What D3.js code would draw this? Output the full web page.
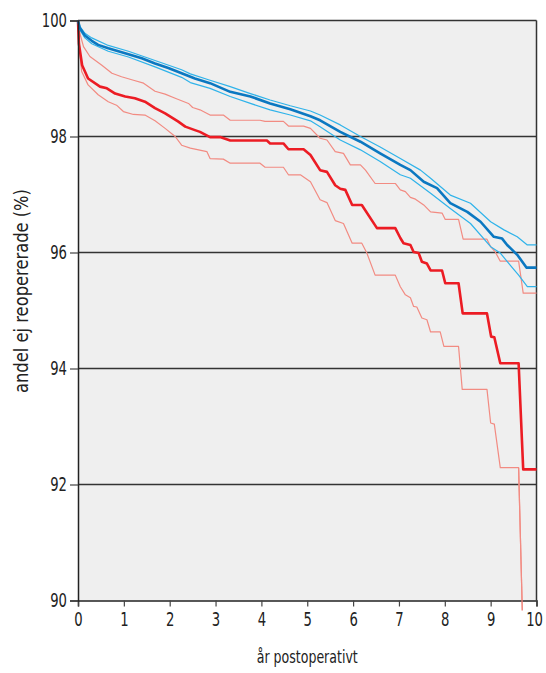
<!DOCTYPE html>
<html><head><meta charset="utf-8">
<script src="https://cdn.jsdelivr.net/npm/d3@7"></script>
<style>
body{margin:0;background:#fff;}
text{font-family:"DejaVu Sans",sans-serif;fill:#222;}
</style></head>
<body><svg id="c" width="546" height="673"></svg>
<script>
const xTicks=[0,1,2,3,4,5,6,7,8,9,10];
const yTicks=[90,92,94,96,98,100];
const gridValues=[92,94,96,98];
const xTitle="år postoperativt";
const yTitle="andel ej reopererade (%)";

const redMain=[[0,100],[0.02,99.6],[0.09,99.23],[0.22,99.0],[0.48,98.86],[0.63,98.83],[0.81,98.74],[1.03,98.69],[1.24,98.66],[1.46,98.6],[1.68,98.49],[1.9,98.4],[2.18,98.26],[2.34,98.17],[2.55,98.11],[2.66,98.08],[2.88,97.99],[3.1,97.99],[3.32,97.93],[4.12,97.93],[4.19,97.88],[4.48,97.88],[4.59,97.78],[4.92,97.78],[5.07,97.68],[5.28,97.42],[5.43,97.39],[5.61,97.16],[5.72,97.1],[5.83,97.08],[5.98,96.82],[6.19,96.82],[6.52,96.42],[6.92,96.42],[7.03,96.25],[7.1,96.16],[7.25,96.13],[7.32,96.01],[7.43,95.99],[7.5,95.84],[7.61,95.81],[7.69,95.69],[7.94,95.69],[8.01,95.47],[8.3,95.47],[8.39,94.95],[8.92,94.95],[9.01,94.55],[9.08,94.54],[9.21,94.09],[9.61,94.09],[9.71,92.26],[10,92.26]];
const redLower=[[0,100],[0.03,99.5],[0.08,99.12],[0.22,98.89],[0.44,98.72],[0.66,98.6],[0.84,98.54],[0.99,98.43],[1.21,98.38],[1.46,98.37],[1.68,98.27],[1.9,98.14],[2.12,98.0],[2.26,97.85],[2.45,97.8],[2.81,97.74],[2.88,97.62],[3.17,97.61],[3.32,97.54],[3.97,97.54],[4.08,97.47],[4.48,97.47],[4.59,97.34],[4.85,97.34],[5.07,97.22],[5.28,96.91],[5.43,96.86],[5.61,96.55],[5.79,96.5],[5.98,96.16],[6.19,96.16],[6.3,95.99],[6.48,95.61],[6.92,95.61],[7.03,95.41],[7.14,95.27],[7.25,95.22],[7.32,95.07],[7.39,95.06],[7.5,94.87],[7.61,94.84],[7.69,94.63],[7.9,94.63],[7.98,94.38],[8.3,94.38],[8.38,93.64],[8.92,93.64],[9.0,93.06],[9.08,93.04],[9.21,92.29],[9.61,92.29],[9.69,89.83]];
const redUpper=[[0,100],[0.05,99.75],[0.12,99.55],[0.26,99.38],[0.52,99.23],[0.74,99.09],[0.95,99.03],[1.21,98.97],[1.43,98.92],[1.68,98.78],[1.9,98.73],[2.12,98.66],[2.41,98.57],[2.5,98.5],[2.66,98.46],[2.88,98.37],[3.17,98.37],[3.32,98.28],[3.97,98.28],[4.08,98.26],[4.48,98.26],[4.59,98.18],[4.92,98.18],[5.07,98.14],[5.28,97.97],[5.43,97.94],[5.61,97.74],[5.79,97.71],[5.94,97.51],[6.16,97.51],[6.27,97.42],[6.48,97.19],[6.92,97.19],[7.03,97.08],[7.14,97.05],[7.25,96.95],[7.36,96.92],[7.54,96.82],[7.69,96.7],[7.94,96.68],[8.01,96.57],[8.3,96.57],[8.4,96.23],[8.92,96.23],[9.0,96.1],[9.1,96.01],[9.21,95.85],[9.61,95.85],[9.71,95.3],[10,95.3]];
const blueMain=[[0,100],[0.04,99.87],[0.15,99.74],[0.3,99.65],[0.44,99.58],[0.66,99.52],[0.88,99.47],[1.1,99.42],[1.39,99.35],[1.68,99.26],[1.97,99.18],[2.26,99.09],[2.55,99.0],[2.88,98.92],[3.32,98.77],[3.76,98.69],[4.19,98.57],[4.63,98.47],[5.07,98.35],[5.28,98.28],[5.72,98.08],[6.16,97.91],[6.59,97.71],[7.03,97.51],[7.25,97.42],[7.54,97.22],[7.83,97.11],[8.12,96.85],[8.49,96.7],[8.78,96.53],[9.07,96.27],[9.25,96.24],[9.36,96.13],[9.58,95.96],[9.78,95.74],[10,95.74]];
const blueUpper=[[0,100],[0.04,99.9],[0.15,99.78],[0.3,99.7],[0.66,99.57],[1.1,99.47],[1.68,99.31],[2.26,99.15],[2.45,99.08],[2.88,98.97],[3.32,98.86],[3.76,98.74],[4.19,98.63],[4.63,98.53],[5.07,98.44],[5.28,98.37],[5.72,98.2],[6.16,98.0],[6.59,97.82],[7.03,97.62],[7.47,97.42],[7.69,97.28],[8.12,96.99],[8.56,96.85],[9.0,96.53],[9.29,96.39],[9.58,96.27],[9.8,96.13],[10,96.13]];
const blueLower=[[0,100],[0.04,99.84],[0.15,99.7],[0.3,99.6],[0.66,99.47],[1.1,99.37],[1.68,99.2],[2.26,99.02],[2.45,98.93],[2.88,98.83],[3.32,98.69],[3.76,98.57],[4.19,98.46],[4.63,98.37],[5.07,98.27],[5.28,98.17],[5.72,97.94],[6.16,97.77],[6.59,97.57],[7.03,97.34],[7.25,97.28],[7.69,97.02],[8.12,96.76],[8.56,96.5],[9.0,96.1],[9.21,95.99],[9.43,95.78],[9.61,95.61],[9.8,95.41],[10,95.41]];

const svg=d3.select("#c");
const x=d3.scaleLinear().domain([0,10]).range([78,536.5]);
const y=d3.scaleLinear().domain([90,100]).range([600.5,20.5]);
const SX=0.66;

svg.append("rect").attr("x",x(0)).attr("y",y(100)).attr("width",x(10)-x(0)).attr("height",y(90)-y(100)).attr("fill","#efefef");

svg.append("g").selectAll("line").data(gridValues).join("line")
  .attr("x1",x(0)).attr("x2",x(10)).attr("y1",d=>y(d)).attr("y2",d=>y(d))
  .attr("stroke","#333").attr("stroke-width",1.3);
svg.append("line").attr("x1",x(0)).attr("x2",x(10)).attr("y1",y(100)).attr("y2",y(100)).attr("stroke","#333").attr("stroke-width",1.5);
svg.append("line").attr("x1",x(10)).attr("x2",x(10)).attr("y1",y(100)).attr("y2",y(90)).attr("stroke","#333").attr("stroke-width",1.5);

const line=d3.line().x(d=>x(d[0])).y(d=>y(d[1]));
function draw(data,color,w){
  svg.append("path").datum(data).attr("d",line).attr("fill","none")
    .attr("stroke",color).attr("stroke-width",w).attr("stroke-linejoin","round");
}
draw(redUpper,"#f28b82",1.2);
draw(redLower,"#f28b82",1.2);
draw(redMain,"#ec1c24",2.6);
draw(blueUpper,"#2fb3ea",1.2);
draw(blueLower,"#2fb3ea",1.2);
draw(blueMain,"#0b78c1",2.6);

const xa=svg.append("g").attr("transform",`translate(0,${y(90)})`)
  .call(d3.axisBottom(x).tickValues(xTicks).tickFormat(d3.format("d")).tickSize(6).tickPadding(5));
const ya=svg.append("g").attr("transform",`translate(${x(0)},0)`)
  .call(d3.axisLeft(y).tickValues(yTicks).tickFormat(d3.format("d")).tickSize(8).tickPadding(3));
[xa,ya].forEach(a=>{
  a.select(".domain").attr("stroke","#222").attr("stroke-width",1.5);
  a.selectAll(".tick line").attr("stroke","#444").attr("stroke-width",1.2);
  a.selectAll(".tick text").attr("font-size",20).attr("fill","#222")
   .attr("font-family",'"DejaVu Sans",sans-serif');
});
xa.selectAll(".tick text").attr("transform",`scale(${SX},1)`);
xa.selectAll(".tick text").filter(d=>d===10).attr("text-anchor","end").attr("x",6/SX);
ya.selectAll(".tick text").attr("x",-11/SX).attr("transform",`scale(${SX},1)`);
svg.append("path").datum(redLower.slice(-2)).attr("d",line).attr("fill","none").attr("stroke","#f28b82").attr("stroke-width",1.2);

const xt=svg.append("text").attr("x",(x(0)+x(10))/2).attr("y",663).attr("text-anchor","middle")
  .attr("font-size",18).text(xTitle);
xt.attr("textLength",101).attr("lengthAdjust","spacingAndGlyphs");
const yt=svg.append("text").attr("transform",`translate(28,291) rotate(-90)`)
  .attr("text-anchor","middle").attr("font-size",19).text(yTitle);
yt.attr("textLength",204).attr("lengthAdjust","spacingAndGlyphs");
</script></body></html>
